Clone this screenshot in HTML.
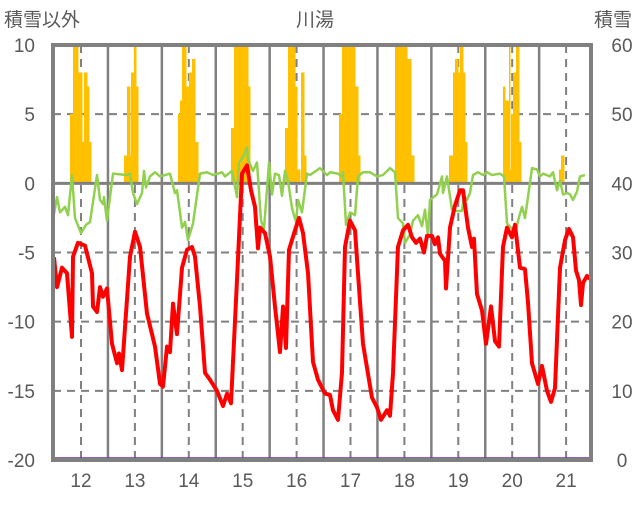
<!DOCTYPE html>
<html><head><meta charset="utf-8"><style>
body{margin:0;background:#fff;}
svg text{font-family:"Liberation Sans","Noto Sans CJK JP",sans-serif;fill:#595959;}
</style></head><body>
<svg id="chart" width="636" height="501" viewBox="0 0 636 501" xmlns="http://www.w3.org/2000/svg">
<text x="4" y="26" font-size="19">積雪以外</text>
<text x="315" y="26" font-size="19" text-anchor="middle">川湯</text>
<text x="632" y="26" font-size="19" text-anchor="end">積雪</text>
<g id="grid"></g>
<g id="bars" shape-rendering="crispEdges"></g>
<g id="lines"></g>
<g id="axes"></g>
</svg>
<script>
const yearTicks = [12,13,14,15,16,17,18,19,20,21];
const leftTicks = [10,5,0,-5,-10,-15,-20];
const rightTicks = [60,50,40,30,20,10,0];
const barStart = [11.814,11.857,11.932,12.012,12.056,12.105,12.148, 12.816,12.86,12.897,12.94,13.0,13.02, 13.806,13.85,13.887,13.93,13.961,14.022,14.07,14.115, 14.796,14.839,15.086, 15.803,15.847,15.952,16.001,16.094,16.125, 16.805,16.848,17.07,17.133, 17.844,18.043,18.117, 18.828,18.908,18.957,18.982,19.045,19.082,19.119, 19.835,19.866,19.946,19.959,19.99,20.033,20.083,20.113, 20.874,20.918];
const barEnd = [11.857,11.932,12.012,12.056,12.105,12.148,12.18, 12.86,12.897,12.94,13.0,13.02,13.05, 13.85,13.887,13.93,13.961,14.022,14.07,14.115,14.158, 14.839,15.086,15.135, 15.847,15.952,16.001,16.05,16.125,16.169, 16.848,17.07,17.133,17.176, 18.043,18.117,18.178, 18.908,18.957,18.982,19.045,19.082,19.119,19.156, 19.866,19.946,19.959,19.99,20.033,20.083,20.113,20.158, 20.918,20.961];
const snowDepth = [50,60,56,46,56,54,46, 44,54,44,56,60,54, 50,52,60,50,54,56,58,46, 48,60,54, 48,60,54,42,56,44, 50,60,54,44, 60,58,44, 44,56,58,56,60,56,46, 54,52,60,42,50,56,60,46, 42,44];
const redT = [11.499,11.555,11.647,11.740,11.833,11.852,11.944,12.074,12.204,12.223,12.297,12.353,12.408,12.482,12.575,12.668,12.705,12.761,12.909,13.002,13.095,13.224,13.373,13.466,13.521,13.596,13.651,13.707,13.781,13.874,13.967,14.059,14.115,14.208,14.301,14.393,14.523,14.635,14.709,14.783,14.894,14.987,15.080,15.154,15.228,15.284,15.321,15.414,15.507,15.599,15.692,15.748,15.803,15.859,15.970,16.045,16.119,16.212,16.304,16.397,16.527,16.620,16.675,16.768,16.842,16.898,16.991,17.084,17.139,17.232,17.399,17.492,17.566,17.677,17.733,17.789,17.881,17.974,18.067,18.141,18.215,18.290,18.364,18.419,18.512,18.568,18.623,18.661,18.753,18.772,18.846,18.939,19.032,19.087,19.180,19.254,19.291,19.347,19.440,19.514,19.607,19.681,19.755,19.829,19.904,19.996,20.052,20.145,20.237,20.293,20.367,20.479,20.553,20.646,20.720,20.794,20.887,20.980,21.054,21.128,21.184,21.239,21.277,21.314,21.388,21.444];
const redV = [-5.35,-7.5,-6.1,-6.5,-11.1,-5.3,-4.3,-4.5,-6.5,-8.9,-9.3,-7.5,-8.2,-7.6,-11.6,-13,-12.3,-13.5,-5.3,-3.5,-4.6,-9.4,-11.8,-14.5,-14.7,-11.8,-12.2,-8.7,-10.9,-6.1,-4.8,-4.6,-5.3,-8.9,-13.7,-14.2,-15,-16.1,-15.2,-15.9,-7,0.7,1.3,-0.5,-1.7,-4.7,-3.2,-3.6,-5.3,-8.9,-12.2,-8.9,-11.9,-4.8,-3.4,-2.5,-3.6,-6.5,-12.9,-14.2,-15.2,-15.3,-16.4,-17.1,-13.7,-4.6,-2.7,-3.4,-6.5,-11.6,-15.5,-16.2,-17.1,-16.4,-16.8,-13.7,-4.6,-3.4,-3.0,-3.9,-4.3,-4.0,-5.0,-3.8,-3.8,-4.4,-3.9,-5.1,-5.6,-7.6,-3.2,-1.6,-0.5,-0.5,-3.2,-4.6,-4.0,-8.0,-9.2,-11.6,-8.9,-11.4,-11.8,-4.6,-3.2,-3.9,-3.0,-6.1,-6.2,-8.6,-13,-14.5,-13.2,-15,-15.8,-14.8,-6.1,-4.1,-3.3,-3.9,-6.3,-7.0,-8.8,-7.2,-6.7,-6.9];
const greenT = [11.499,11.555,11.610,11.703,11.759,11.833,11.889,12.000,12.093,12.167,12.297,12.353,12.408,12.427,12.482,12.594,12.853,12.909,12.965,13.039,13.132,13.169,13.206,13.280,13.373,13.466,13.558,13.651,13.744,13.781,13.874,13.930,13.985,14.078,14.208,14.338,14.449,14.616,14.672,14.802,14.894,14.931,15.006,15.080,15.098,15.191,15.265,15.340,15.395,15.488,15.544,15.599,15.673,15.729,15.785,15.840,15.915,15.989,16.026,16.100,16.193,16.249,16.434,16.564,16.620,16.768,16.842,16.861,16.917,16.991,17.084,17.139,17.232,17.362,17.492,17.603,17.733,17.826,17.881,17.974,18.011,18.104,18.160,18.252,18.327,18.382,18.438,18.475,18.605,18.698,18.716,18.790,18.883,18.976,19.069,19.106,19.161,19.217,19.273,19.366,19.458,19.533,19.625,19.774,19.848,19.904,19.996,20.052,20.108,20.182,20.237,20.293,20.367,20.460,20.516,20.572,20.701,20.757,20.831,20.887,20.943,21.017,21.072,21.128,21.202,21.258,21.351];
const greenV = [-2.2,-1.0,-2.1,-1.7,-2.3,0.6,-2.5,-3.6,-3.0,-2.8,0.6,-1.2,-1.5,-1.0,-2.7,0.7,0.6,0.7,-0.7,-1.5,-0.7,0.9,-0.3,0.5,0.8,0.5,0.6,0.7,-0.7,-0.5,-3.2,-2.8,-4.1,-2.9,0.7,0.8,0.6,0.8,0.5,0.9,-1.0,1.5,1.9,2.6,1.7,0.9,1.5,-2.7,-3.3,1.5,-0.8,0.7,0.6,-0.9,0.9,0.2,-1.8,-2.8,-1.2,-2.1,0.7,0.6,1.1,0.6,0.8,0.7,0.5,0.8,-3.0,-2.1,-2.3,0.5,0.8,0.8,0.5,0.6,1.1,0.8,-2.5,-2.9,-4.3,-3.7,-2.7,-2.3,-3.1,-1.9,-3.8,-1.2,-0.8,0.5,-0.7,0.5,-1.9,-2.0,-2.0,-0.9,-1.2,-0.7,0.6,0.8,0.6,0.8,0.6,0.7,0.5,-2.9,-3.3,-3.7,-2.7,-1.7,-2.5,-1.0,1.1,1.0,0.5,0.7,0.5,0.8,-0.5,0.2,-0.8,-0.7,-0.8,-1.2,-0.6,0.5,0.6];

const L=53, R=591, T=45, B=460;
const xOf = t => 81 + (t - 12) * 53.9;
const yL = v => T + (10 - v) * (B - T) / 30;
const yR = v => B - v * (B - T) / 60;
const NS = 'http://www.w3.org/2000/svg';
function mk(parent, tag, attrs){const e=document.createElementNS(NS,tag);for(const k in attrs)e.setAttribute(k,attrs[k]);parent.appendChild(e);return e;}
const grid=document.getElementById('grid'), bars=document.getElementById('bars'), lines=document.getElementById('lines'), axes=document.getElementById('axes');

leftTicks.forEach(v=>{
  if(v===10||v===-20||v===0) return;
  const g=mk(grid,'line',{x1:L,x2:R,y1:yL(v),y2:yL(v),stroke:'#808080','stroke-width':2,'stroke-dasharray':'8,6'});
  
  
});
yearTicks.forEach(y=>{
  const d=mk(grid,'line',{x1:xOf(y),x2:xOf(y),y1:T,y2:B,stroke:'#808080','stroke-width':2,'stroke-dasharray':'8,6'});
  
  
  if(y<21){
    const s=mk(grid,'line',{x1:xOf(y+0.5),x2:xOf(y+0.5),y1:T,y2:B,stroke:'#808080','stroke-width':2.5});
    
    
  }
  const tx=mk(axes,'text',{x:xOf(y),y:487,'font-size':19,'text-anchor':'middle'});
  tx.textContent=y;
  
  
});
barStart.forEach((s,i)=>{
  const v=Math.min(snowDepth[i],60);
  const base=yL(0);
  const top=yR(v);
  const x0=Math.floor(xOf(s)), x1=Math.ceil(xOf(barEnd[i]))+0.5;
  const r=mk(bars,'rect',{x:x0,y:top,width:Math.max(x1-x0,1),height:Math.max(base-top,0),fill:'#FFC000'});
  
  
});
const zero=mk(lines,'line',{x1:L,x2:R,y1:yL(0),y2:yL(0),stroke:'#808080','stroke-width':3});


const gp=mk(lines,'polyline',{points:greenT.map((t,i)=>xOf(t)+','+yL(greenV[i])).join(' '),fill:'none',stroke:'#92D050','stroke-width':2.5,'stroke-linejoin':'round'});


const rp=mk(lines,'polyline',{points:redT.map((t,i)=>xOf(t)+','+yL(redV[i])).join(' '),fill:'none',stroke:'#FF0000','stroke-width':4,'stroke-linejoin':'round'});


const pu=mk(lines,'line',{x1:L,x2:R,y1:B-1,y2:B-1,stroke:'#7030A0','stroke-width':3.5});


const fr=mk(axes,'rect',{x:L,y:T,width:R-L,height:B-T,fill:'none',stroke:'#808080','stroke-width':4});


leftTicks.forEach(v=>{
  const t=mk(axes,'text',{x:35,y:yL(v)+7,'font-size':19,'text-anchor':'end'});
  t.textContent=v;
  
  
});
rightTicks.forEach(v=>{
  const t=mk(axes,'text',{x:622,y:yR(v)+7,'font-size':19,'text-anchor':'middle'});
  t.textContent=v;
  
  
});
</script>
</body></html>
